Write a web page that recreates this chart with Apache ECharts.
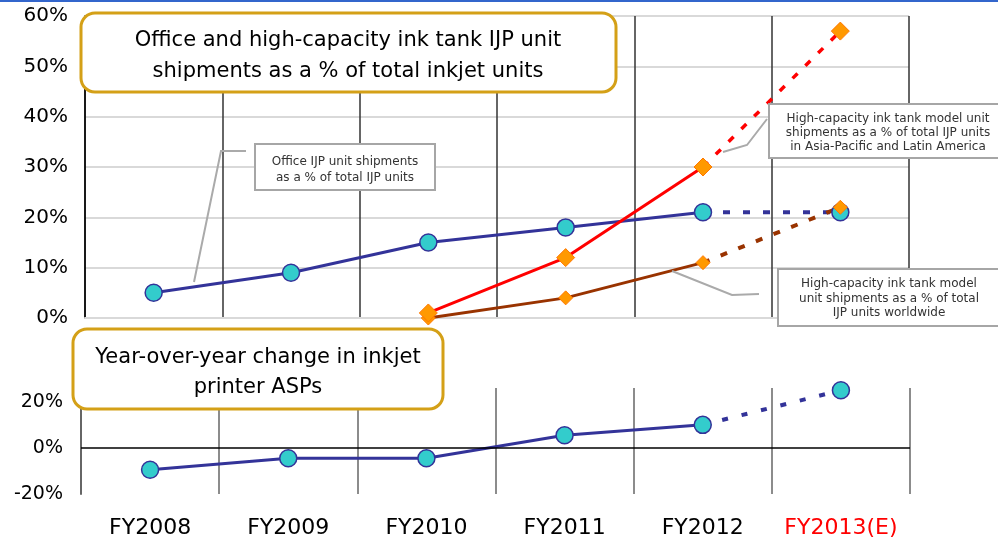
<!DOCTYPE html>
<html>
<head>
<meta charset="utf-8">
<title>IJP unit shipments</title>
<script src="https://cdn.jsdelivr.net/npm/echarts@6.0.0/dist/echarts.min.js"></script>
<style>
html,body{margin:0;padding:0;background:#fff;}
#main{width:998px;height:544px;}
</style>
</head>
<body>
<div id="main"></div>
<script>
var years = ['FY2008', 'FY2009', 'FY2010', 'FY2011', 'FY2012', 'FY2013(E)'];
var lastActual = 4; // FY2012, FY2013 is the forecast
var topTicks = [0, 10, 20, 30, 40, 50, 60];
var bottomTicks = [-20, 0, 20];

// % of total IJP units
var officeShare = [5, 9, 15, 18, 21, 21];
var worldShare = [null, null, 0, 4, 11, 22];
var asiaShare = [null, null, 1, 12, 30, 57];
// year-over-year change in inkjet ASPs
var aspChange = [-9.5, -4.5, -4.5, 5.5, 10, 25];

function actual(arr) {
	return arr.map(function (v, i) { return i <= lastActual ? v : null; });
}
function forecast(arr) {
	return arr.map(function (v, i) { return i >= lastActual ? v : null; });
}

var FONT = '"DejaVu Sans", Verdana, sans-serif';
var NAVY = '#333399', CYAN = '#33CCCC', ORANGE = '#FF9900';

var circle = {color: CYAN, borderColor: NAVY, borderWidth: 1.5};
var diamond = {color: ORANGE, borderColor: '#FF7700', borderWidth: 1};
function lastOnly(shape) {
	return function (v, p) { return p.dataIndex > lastActual ? shape : 'none'; };
}

var chart = echarts.init(document.getElementById('main'));

var option = {
	animation: false,
	grid: [
		{left: 85, top: 16, width: 824, height: 302, outerBoundsMode: 'none'},
		{left: 81, top: 388, width: 829, height: 106, outerBoundsMode: 'none'}
	],
	xAxis: [
		{
			type: 'category', gridIndex: 0, data: years, boundaryGap: true,
			axisLabel: {show: false}, axisTick: {show: false},
			axisLine: {show: true, lineStyle: {color: '#d9d9d9', width: 2}},
			splitLine: {show: true, interval: 0, lineStyle: {color: '#333', width: 1.5}}
		},
		{
			type: 'category', gridIndex: 1, data: years, boundaryGap: true, position: 'bottom',
			axisLine: {show: false, onZero: false}, axisTick: {show: false},
			splitLine: {show: true, interval: 0, lineStyle: {color: '#666', width: 1.5}},
			axisLabel: {
				interval: 0, margin: 23, color: '#000', fontFamily: FONT, fontSize: 22,
				formatter: function (v) { return v === years[5] ? '{e|' + v + '}' : v; },
				rich: {e: {color: '#FF0000', fontFamily: FONT, fontSize: 22}}
			}
		}
	],
	yAxis: [
		{
			type: 'value', gridIndex: 0, min: topTicks[0], max: topTicks[topTicks.length - 1], interval: 10,
			axisLine: {show: true, lineStyle: {color: '#000', width: 1.5}},
			axisTick: {show: false},
			splitLine: {show: true, lineStyle: {color: '#d9d9d9', width: 2}},
			axisLabel: {margin: 17, color: '#000', fontFamily: FONT, fontSize: 20, formatter: '{value}%'}
		},
		{
			type: 'value', gridIndex: 1, min: bottomTicks[0], max: 26, interval: 20,
			axisLine: {show: true, lineStyle: {color: '#666', width: 2}},
			axisTick: {show: false},
			splitLine: {show: false},
			axisLabel: {
				margin: 18, color: '#000', fontFamily: FONT, fontSize: 19, showMaxLabel: false,
				formatter: function (v) { return bottomTicks.indexOf(v) >= 0 ? v + '%' : ''; }
			}
		}
	],
	series: [
		{
			name: 'Office', type: 'line', xAxisIndex: 0, yAxisIndex: 0, data: actual(officeShare),
			lineStyle: {color: NAVY, width: 3}, symbol: 'circle', symbolSize: 17, itemStyle: circle, clip: false
		},
		{
			name: 'Office (E)', type: 'line', xAxisIndex: 0, yAxisIndex: 0, data: forecast(officeShare),
			lineStyle: {color: NAVY, width: 4, type: [7, 13]}, symbol: lastOnly('circle'), symbolSize: 17,
			itemStyle: circle, clip: false
		},
		{
			name: 'Worldwide', type: 'line', xAxisIndex: 0, yAxisIndex: 0, data: actual(worldShare),
			lineStyle: {color: '#993300', width: 3}, symbol: 'diamond', symbolSize: 14, itemStyle: diamond, clip: false
		},
		{
			name: 'Worldwide (E)', type: 'line', xAxisIndex: 0, yAxisIndex: 0, data: forecast(worldShare),
			lineStyle: {color: '#993300', width: 4, type: [7, 12]}, symbol: lastOnly('diamond'), symbolSize: 14,
			itemStyle: diamond, clip: false
		},
		{
			name: 'Asia-Pacific/Latin America', type: 'line', xAxisIndex: 0, yAxisIndex: 0, data: actual(asiaShare),
			lineStyle: {color: '#FF0000', width: 3}, symbol: 'diamond', symbolSize: 18, itemStyle: diamond, clip: false
		},
		{
			name: 'Asia-Pacific/Latin America (E)', type: 'line', xAxisIndex: 0, yAxisIndex: 0, data: forecast(asiaShare),
			lineStyle: {color: '#FF0000', width: 3.5, type: [7, 11]}, symbol: lastOnly('diamond'), symbolSize: 18,
			itemStyle: diamond, clip: false
		},
		{
			name: 'ASP change', type: 'line', xAxisIndex: 1, yAxisIndex: 1, data: actual(aspChange),
			lineStyle: {color: NAVY, width: 3}, symbol: 'circle', symbolSize: 17, itemStyle: circle, clip: false,
			markLine: {
				silent: true, symbol: 'none', label: {show: false},
				lineStyle: {color: '#000', width: 1.5, type: 'solid'},
				data: [{yAxis: 0}]
			}
		},
		{
			name: 'ASP change (E)', type: 'line', xAxisIndex: 1, yAxisIndex: 1, data: forecast(aspChange),
			lineStyle: {color: NAVY, width: 4, type: [6, 14]}, symbol: lastOnly('circle'), symbolSize: 17,
			itemStyle: circle, clip: false
		}
	],
	graphic: [
		// page border line at the top
		{type: 'rect', z: 100, shape: {x: 0, y: 0, width: 998, height: 2}, style: {fill: '#3366CC'}},

		// title boxes
		{type: 'rect', z: 100, shape: {x: 81, y: 13, width: 535, height: 79, r: 14},
			style: {fill: '#fff', stroke: '#D4A017', lineWidth: 3}},
		{type: 'text', z: 101, x: 348, y: 56,
			style: {text: 'Office and high-capacity ink tank IJP unit\nshipments as a % of total inkjet units',
				fill: '#000', font: '21px ' + FONT, align: 'center', verticalAlign: 'middle', lineHeight: 31}},
		{type: 'rect', z: 100, shape: {x: 73, y: 329, width: 370, height: 80, r: 14},
			style: {fill: '#fff', stroke: '#D4A017', lineWidth: 3}},
		{type: 'text', z: 101, x: 258, y: 373,
			style: {text: 'Year-over-year change in inkjet\nprinter ASPs',
				fill: '#000', font: '21px ' + FONT, align: 'center', verticalAlign: 'middle', lineHeight: 30}},

		// series call-outs
		{type: 'polyline', z: 99, shape: {points: [[246, 151], [221, 151], [194, 282]]},
			style: {stroke: '#aaa', lineWidth: 2, fill: null}},
		{type: 'rect', z: 100, shape: {x: 255, y: 144, width: 180, height: 46},
			style: {fill: '#fff', stroke: '#a6a6a6', lineWidth: 2}},
		{type: 'text', z: 101, x: 345, y: 170,
			style: {text: 'Office IJP unit shipments\nas a % of total IJP units',
				fill: '#333', font: '12px ' + FONT, align: 'center', verticalAlign: 'middle', lineHeight: 16}},

		{type: 'polyline', z: 99, shape: {points: [[767, 119], [747, 145], [723, 152]]},
			style: {stroke: '#aaa', lineWidth: 2, fill: null}},
		{type: 'rect', z: 100, shape: {x: 769, y: 104, width: 240, height: 54},
			style: {fill: '#fff', stroke: '#a6a6a6', lineWidth: 2}},
		{type: 'text', z: 101, x: 888, y: 133,
			style: {text: 'High-capacity ink tank model unit\nshipments as a % of total IJP units\nin Asia-Pacific and Latin America',
				fill: '#333', font: '12px ' + FONT, align: 'center', verticalAlign: 'middle', lineHeight: 14}},

		{type: 'polyline', z: 99, shape: {points: [[759, 294], [732, 295], [672, 271]]},
			style: {stroke: '#aaa', lineWidth: 2, fill: null}},
		{type: 'rect', z: 100, shape: {x: 778, y: 269, width: 230, height: 57},
			style: {fill: '#fff', stroke: '#a6a6a6', lineWidth: 2}},
		{type: 'text', z: 101, x: 889, y: 298.5,
			style: {text: 'High-capacity ink tank model\nunit shipments as a % of total\nIJP units worldwide',
				fill: '#333', font: '12px ' + FONT, align: 'center', verticalAlign: 'middle', lineHeight: 14.5}}
	]
};

chart.setOption(option);
</script>
</body>
</html>
